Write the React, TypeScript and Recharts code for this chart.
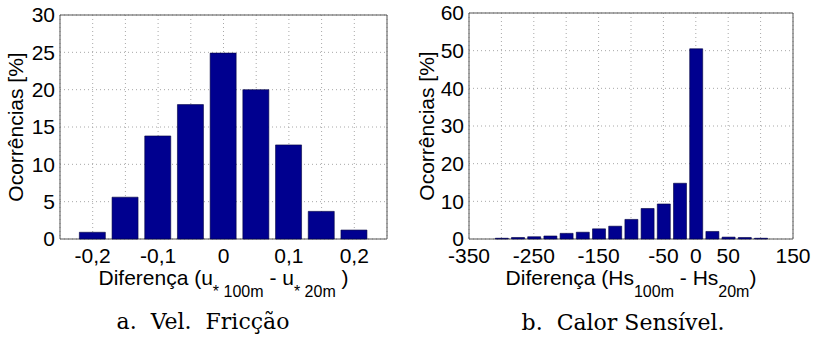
import React from 'react';
import { BarChart, Bar, XAxis, YAxis, CartesianGrid, ReferenceArea } from 'recharts';

const FONT = 'Liberation Sans, Arial, Helvetica, sans-serif';
const SERIF = 'DejaVu Serif, serif';
const BAR_COLOR = '#00008f';
const GRID_COLOR = '#a8a8a8';
const BOX_COLOR = '#555';

// a. Vel. Fricção
const leftCenters = [-0.2, -0.15, -0.1, -0.05, 0, 0.05, 0.1, 0.15, 0.2];
const leftValues = [0.9, 5.6, 13.8, 18.0, 24.9, 20.0, 12.6, 3.7, 1.2];
const leftTicks = [-0.25, -0.2, -0.15, -0.1, -0.05, 0, 0.05, 0.1, 0.15, 0.2, 0.25];
const leftTickLabels = ['', '-0,2', '', '-0,1', '', '0', '', '0,1', '', '0,2', ''];
const leftYTicks = [0, 5, 10, 15, 20, 25, 30];

// b. Calor Sensível
const rightCenters = [-300, -275, -250, -225, -200, -175, -150, -125, -100, -75, -50, -25, 0, 25, 50, 75, 100];
const rightValues = [0.2, 0.4, 0.6, 0.8, 1.5, 1.8, 2.7, 3.4, 5.2, 8.1, 9.3, 14.8, 50.5, 2.0, 0.5, 0.4, 0.2];
const rightTicks = [-350, -300, -250, -200, -150, -100, -50, 0, 50, 100, 150];
const rightTickLabels = ['-350', '', '-250', '', '-150', '', '-50', '0', '50', '', '150'];
const rightYTicks = [0, 10, 20, 30, 40, 50, 60];

const leftData = leftCenters.map((x, i) => ({ x, y: leftValues[i] }));
const rightData = rightCenters.map((x, i) => ({ x, y: rightValues[i] }));

type PanelProps = {
  data: { x: number; y: number }[];
  xTicks: number[];
  xTickLabels: string[];
  yTicks: number[];
  barSize: number;
  margin: { top: number; right: number; left: number; bottom: number };
  yAxisWidth: number;
  yLabelX: number;
  xLabel: React.ReactNode;
};

const Panel = ({ data, xTicks, xTickLabels, yTicks, barSize, margin, yAxisWidth, yLabelX, xLabel }: PanelProps) => {
  const x0 = xTicks[0];
  const x1 = xTicks[xTicks.length - 1];
  const y1 = yTicks[yTicks.length - 1];
  const tickStyle = { fontSize: 21, fill: '#000', fontFamily: FONT };

  return (
    <BarChart width={margin.left + 407} height={310} data={data} margin={margin}>
      <CartesianGrid stroke={GRID_COLOR} strokeDasharray="1 3" />
      <XAxis
        dataKey="x"
        type="number"
        domain={[x0, x1]}
        ticks={xTicks}
        interval={0}
        tickFormatter={(v: number) => xTickLabels[xTicks.indexOf(v)] ?? ''}
        tick={tickStyle}
        tickLine={false}
        tickSize={0}
        tickMargin={9}
        axisLine={false}
        height={71}
        label={(p: any) => (
          <text
            x={p.viewBox.x + p.viewBox.width / 2}
            y={p.viewBox.y + 46}
            textAnchor="middle"
            fontSize={21}
            fontFamily={FONT}
            fill="#000"
          >
            {xLabel}
          </text>
        )}
      />
      <YAxis
        type="number"
        domain={[0, y1]}
        ticks={yTicks}
        interval={0}
        tick={tickStyle}
        tickLine={false}
        tickSize={0}
        tickMargin={5}
        axisLine={false}
        width={yAxisWidth}
        label={(p: any) => {
          const cx = yLabelX;
          const cy = p.viewBox.y + p.viewBox.height / 2;
          return (
            <text
              x={cx}
              y={cy}
              transform={`rotate(-90, ${cx}, ${cy})`}
              textAnchor="middle"
              dominantBaseline="central"
              fontSize={21}
              fontFamily={FONT}
              fill="#000"
            >
              Ocorrências [%]
            </text>
          );
        }}
      />
      <Bar dataKey="y" fill={BAR_COLOR} stroke="#000040" strokeWidth={0.6} barSize={barSize} isAnimationActive={false} />
      <ReferenceArea x1={x0} x2={x1} y1={0} y2={y1} fill="none" stroke={BOX_COLOR} strokeWidth={1} ifOverflow="visible" />
    </BarChart>
  );
};

const SUB = { fontSize: 16 } as const;

export default function App() {
  return (
    <div style={{ position: 'absolute', left: 0, top: 0, width: 813, height: 340, background: '#fff' }}>
      <div style={{ position: 'absolute', left: 0, top: 0 }}>
        <Panel
          data={leftData}
          xTicks={leftTicks}
          xTickLabels={leftTickLabels}
          yTicks={leftYTicks}
          barSize={26}
          margin={{ top: 15, right: 20, left: 0, bottom: 0 }}
          yAxisWidth={60}
          yLabelX={15}
          xLabel={
            <>
              <tspan>Diferença (u</tspan>
              <tspan dy={12} {...SUB}>{'* 100m'}</tspan>
              <tspan dy={-12}>{' - u'}</tspan>
              <tspan dy={12} {...SUB}>{'* 20m'}</tspan>
              <tspan dy={-12}>{' )'}</tspan>
            </>
          }
        />
      </div>
      <div style={{ position: 'absolute', left: 406, top: 0 }}>
        <Panel
          data={rightData}
          xTicks={rightTicks}
          xTickLabels={rightTickLabels}
          yTicks={rightYTicks}
          barSize={13}
          margin={{ top: 13, right: 20, left: 0, bottom: 0 }}
          yAxisWidth={63}
          yLabelX={20}
          xLabel={
            <>
              <tspan>Diferença (Hs</tspan>
              <tspan dy={12} {...SUB}>100m</tspan>
              <tspan dy={-12}>{' - Hs'}</tspan>
              <tspan dy={12} {...SUB}>20m</tspan>
              <tspan dy={-12}>)</tspan>
            </>
          }
        />
      </div>
      <svg width={813} height={40} style={{ position: 'absolute', left: 0, top: 300 }}>
        <text x={203} y={29} textAnchor="middle" fontSize={22} fontFamily={SERIF} fill="#000" xmlSpace="preserve">
          a.  Vel.  Fricção
        </text>
        <text x={623} y={30} textAnchor="middle" fontSize={22} fontFamily={SERIF} fill="#000" xmlSpace="preserve">
          b.  Calor Sensível.
        </text>
      </svg>
    </div>
  );
}
